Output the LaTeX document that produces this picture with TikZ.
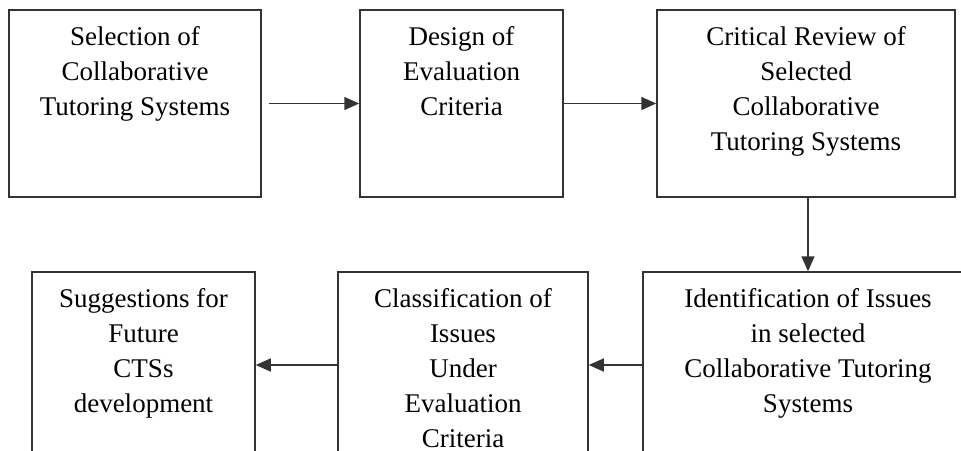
\documentclass[tikz,border=0pt]{standalone}
\usepackage{fontspec}
\setmainfont{Liberation Serif}
\usetikzlibrary{arrows.meta}
\definecolor{lin}{HTML}{333333}
\tikzset{
  box/.style={draw=lin, line width=1.5pt, rectangle, inner sep=0pt},
  lbl/.style={anchor=north, align=center, inner sep=0pt, font=\fontsize{27}{35}\selectfont, text=black},
  arr/.style={draw=lin, line width=1.5pt, -{Triangle[length=15pt,width=13pt]}}
}
\begin{document}
\begin{tikzpicture}[x=1pt,y=-1pt]
\useasboundingbox (0,0) rectangle (961,450);
\clip (0,0) rectangle (961,450);
\fill[white] (0,0) rectangle (961,450);
% top row
\node[box, minimum width=252pt, minimum height=187pt] (b1) at (135,103.5) {};
\node[box, minimum width=203pt, minimum height=187pt] (b2) at (461.5,103.5) {};
\node[box, minimum width=298pt, minimum height=187pt] (b3) at (806,103.5) {};
% bottom row
\node[box, minimum width=223pt, minimum height=250pt] (b4) at (143.5,397) {};
\node[box, minimum width=250pt, minimum height=250pt] (b5) at (463,397) {};
\node[box, minimum width=330pt, minimum height=250pt] (b6) at (808,397) {};
% labels
\node[lbl, yshift=-17pt] (t1) at (b1.north) {Selection of\\Collaborative\\Tutoring Systems};
\node[lbl, yshift=-17pt] (t2) at (b2.north) {Design of\\Evaluation\\Criteria};
\node[lbl, yshift=-17pt] (t3) at (b3.north) {Critical Review of\\Selected\\Collaborative\\Tutoring Systems};
\node[lbl, yshift=-17pt] (t4) at (b4.north) {Suggestions for\\Future\\CTSs\\development};
\node[lbl, yshift=-17pt] (t5) at (b5.north) {Classification of\\Issues\\Under\\Evaluation\\Criteria};
\node[lbl, yshift=-17pt] (t6) at (b6.north) {Identification of Issues\\in selected\\Collaborative Tutoring\\Systems};
% connectors
\coordinate (row2) at (0,365);
\draw[arr, shorten <=7pt] (b1.east) -- (b2.west);
\draw[arr] (b2.east) -- (b3.west);
\draw[arr] (b6.north |- b3.south) -- (b6.north);
\draw[arr] (b6.west |- row2) -- (b5.east |- row2);
\draw[arr] (b5.west |- row2) -- (b4.east |- row2);
\end{tikzpicture}
\end{document}
